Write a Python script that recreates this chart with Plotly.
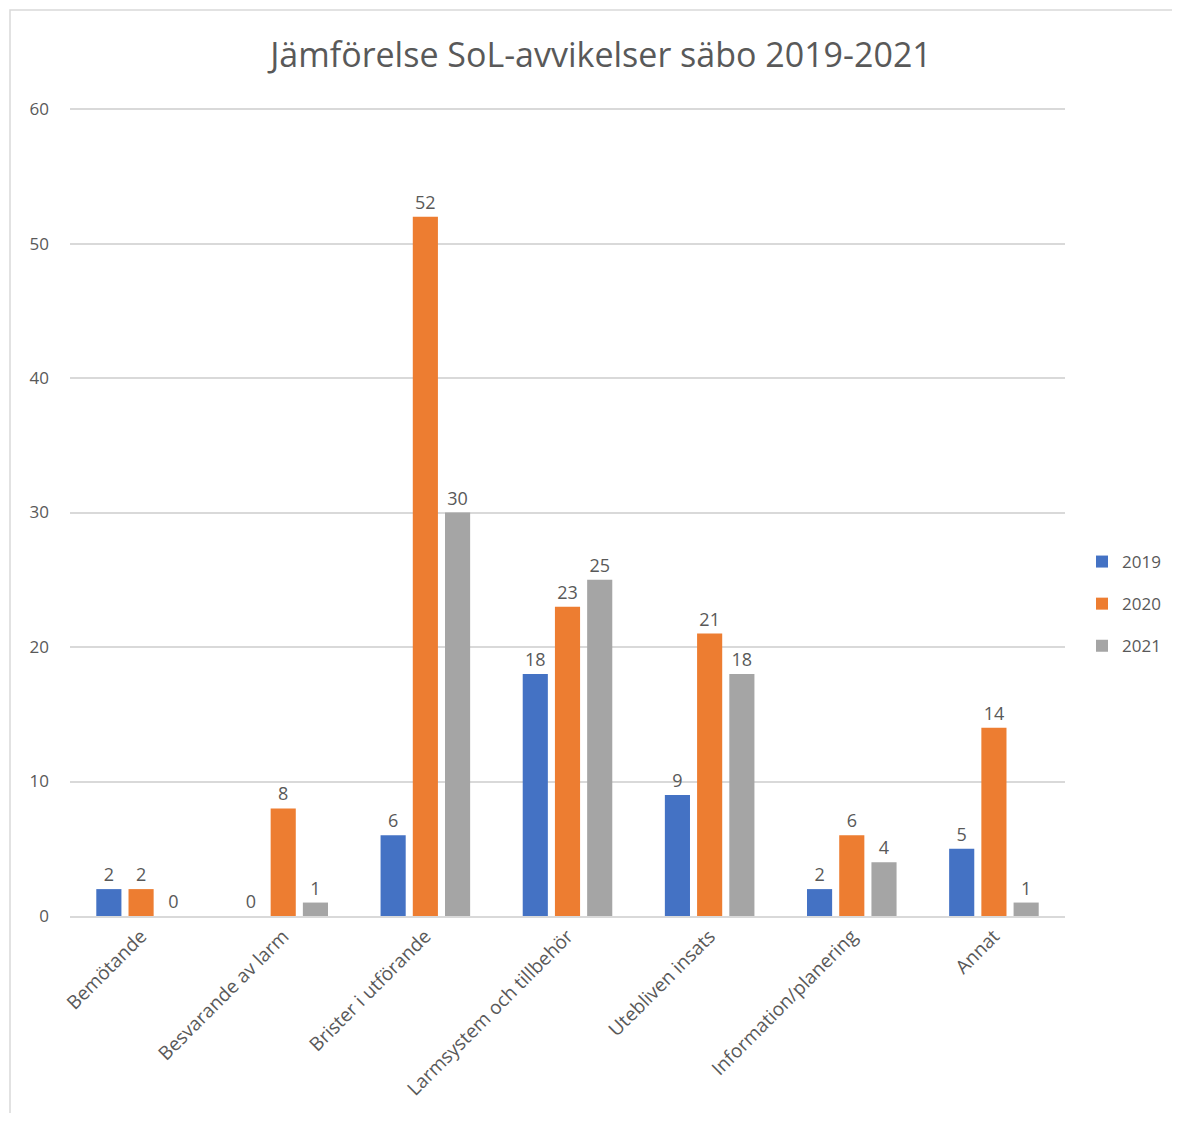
import plotly.graph_objects as go

categories = ["Bemötande", "Besvarande av larm", "Brister i utförande",
              "Larmsystem och tillbehör", "Utebliven insats",
              "Information/planering", "Annat"]
years = ["2019", "2020", "2021"]
v2019 = [2, 0, 6, 18, 9, 2, 5]
v2020 = [2, 8, 52, 23, 21, 6, 14]
v2021 = [0, 1, 30, 25, 18, 4, 1]
colors = ["#4472C4", "#ED7D31", "#A5A5A5"]
yticks = [0, 10, 20, 30, 40, 50, 60]

font_family = "Open Sans, Noto Sans, sans-serif"
grey = "#595959"

fig = go.Figure()
for i, (name, vals) in enumerate(zip(years, [v2019, v2020, v2021])):
    fig.add_trace(go.Bar(
        x=categories, y=vals, name=name, legendgroup=name,
        marker=dict(color=colors[i], line=dict(width=0)),
        text=[str(v) for v in vals], textposition="outside",
        textfont=dict(size=18, color=grey, family=font_family),
        cliponaxis=False,
    ))

OFF = 8  # page body margin
W, H = 1164, 1105
L = 70 - OFF
T = 108 - OFF
R = W - (1065 - OFF)
B = H - (916 - OFF)
pw, ph = W - L - R, H - T - B

def px(x):
    return (x - OFF - L) / pw

def py(y):
    return (H - B - (y - OFF)) / ph

fig.update_layout(
    width=W, height=H,
    margin=dict(l=L, r=R, t=T, b=B, autoexpand=False),
    paper_bgcolor="white", plot_bgcolor="white",
    font=dict(family=font_family, color=grey, size=16),
    title=dict(text="Jämförelse SoL-avvikelser säbo 2019-2021",
               x=(601 - OFF) / W, xref="container", xanchor="center",
               y=1 - (55 - OFF) / H, yref="container", yanchor="middle",
               font=dict(size=34, color=grey, family=font_family)),
    barmode="group", bargap=0.32, bargroupgap=0.22,
    showlegend=True,
    legend=dict(x=px(1082), y=py(604), xanchor="left", yanchor="middle",
                font=dict(size=17, color=grey), tracegroupgap=17,
                itemwidth=30, bgcolor="rgba(0,0,0,0)"),
    xaxis=dict(tickangle=-45, showgrid=False, showline=True,
               linecolor="#D9D9D9", linewidth=1.5, ticks="",
               tickfont=dict(size=19, color=grey)),
    yaxis=dict(range=[0, 60.08], tickvals=yticks, showgrid=True,
               gridcolor="#D9D9D9", gridwidth=1.5, zeroline=False,
               showline=False, ticks="", ticklabelstandoff=20,
               tickfont=dict(size=17, color=grey)),
    shapes=[dict(type="rect", xref="paper", yref="paper",
                 x0=px(10), x1=px(1177), y0=py(1130), y1=py(10),
                 line=dict(color="#D9D9D9", width=1.5), layer="below")],
)

fig.write_html("out.html")
